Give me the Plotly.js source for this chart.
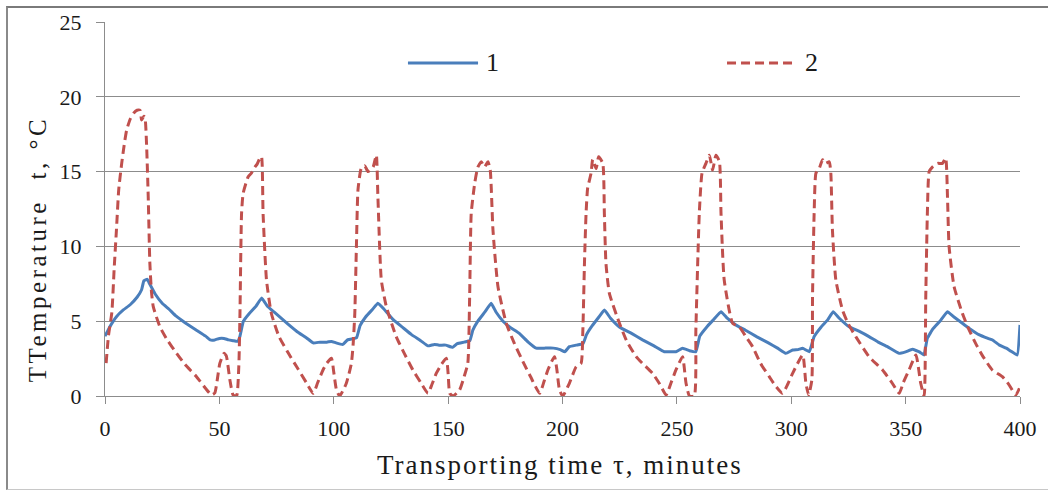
<!DOCTYPE html>
<html>
<head>
<meta charset="utf-8">
<script src="https://cdn.plot.ly/plotly-3.0.1.min.js"></script>
<style>
  html, body { margin: 0; padding: 0; background: #fff; }
  #wrap { position: relative; width: 1048px; height: 490px; overflow: hidden; }
  #chart { position: absolute; left: 0; top: 0; width: 1048px; height: 490px; }
  #frame { position: absolute; left: 6px; top: 6px; width: 1060px; height: 481px;
           border-left: 2px solid #8a8a8a; border-top: 2px solid #7a7a7a; border-bottom: 1px solid #c8c8c8;
           pointer-events: none; }
</style>
</head>
<body>
<div id="wrap">
  <div id="chart"></div>
  <div id="frame"></div>
</div>
<script>
// Series 1 (solid blue)
const time1 = [0, 2, 5, 8, 11, 14, 16, 17, 18.5, 19.5, 22, 25, 28, 31, 35, 40, 44, 46, 48, 50, 52, 54, 56, 58, 59, 60.5, 63, 66, 68.5,
  71, 74, 77, 80, 84, 88, 91, 94, 97, 99, 101, 104, 106, 109, 110, 111.5, 114, 117, 119.3,
  122, 126, 130, 134, 138, 141.2, 144, 146, 149, 152, 154, 157, 159.5, 160.8, 163, 166, 168.8,
  171, 174, 177, 181, 185, 188.5, 192, 196, 199, 201, 203, 206, 209, 210.5, 213, 216, 218.3,
  221, 225, 230, 235, 240, 244.5, 247, 249.6, 252.5, 255.5, 258.3, 260, 263, 266, 269.3,
  272, 275.8, 280, 285, 290, 294, 297.7, 300.6, 303, 305, 307.9, 310, 313, 316, 318.3,
  321, 325.3, 330, 334, 338, 342, 347.2, 350, 353, 356, 358, 359.5, 362, 365, 368.3,
  371, 374.8, 378, 382, 386, 388, 391, 394, 396, 398.8, 400];
const temp1 = [4.0, 4.6, 5.3, 5.75, 6.1, 6.6, 7.1, 7.7, 7.8, 7.5, 6.8, 6.2, 5.8, 5.35, 4.9, 4.4, 4.0, 3.75, 3.75, 3.85, 3.85, 3.75, 3.7, 3.65, 4.0, 5.0, 5.5, 6.0, 6.55,
  6.0, 5.6, 5.2, 4.8, 4.3, 3.9, 3.55, 3.6, 3.6, 3.65, 3.55, 3.45, 3.75, 3.85, 3.9, 4.7, 5.3, 5.8, 6.2,
  5.8, 5.1, 4.6, 4.1, 3.7, 3.35, 3.45, 3.4, 3.4, 3.25, 3.5, 3.6, 3.7, 4.4, 5.0, 5.6, 6.2,
  5.6, 5.0, 4.6, 4.2, 3.6, 3.2, 3.2, 3.2, 3.1, 2.96, 3.3, 3.4, 3.5, 4.1, 4.7, 5.3, 5.75,
  5.2, 4.6, 4.2, 3.75, 3.35, 2.96, 2.96, 2.96, 3.19, 3.03, 2.96, 4.0, 4.6, 5.1, 5.64,
  5.2, 4.75, 4.4, 3.95, 3.55, 3.2, 2.85, 3.07, 3.1, 3.19, 2.96, 3.97, 4.6, 5.1, 5.64,
  5.2, 4.63, 4.3, 3.97, 3.6, 3.3, 2.85, 2.95, 3.12, 2.95, 2.74, 3.86, 4.5, 5.0, 5.64,
  5.3, 4.86, 4.5, 4.1, 3.85, 3.74, 3.4, 3.2, 3.0, 2.74, 4.75];

// Series 2 (dashed red)
const time2 = [0.5, 1.5, 3, 4, 5, 6, 7.3, 8.5, 9.5, 11, 12.5, 14, 15.3, 16, 17, 17.5, 18.2, 18.9, 19.6, 20.3, 21.1, 24, 27, 31.3, 35, 40, 44, 46.6, 48, 49, 50.2, 52, 53, 54.6, 56, 57.5,
  58.5, 59, 59.7, 60.4, 62.6, 64, 65.5, 66.5, 67.7, 68.4, 69.1, 70.6, 72.7, 76, 80, 84, 88, 91, 93, 95.3, 97, 99, 100, 101.2, 102.6, 105.5, 107.7,
  108.5, 109.2, 109.9, 110.6, 112, 113.5, 115, 117.2, 118.6, 119.3, 120.8, 123, 127.3, 131, 134.6, 138, 141.2, 143, 144.8, 147, 149.2, 150, 150.7, 152.1, 155, 157, 158.6,
  159.4, 160.1, 161.6, 163, 164.5, 165.9, 167.4, 168.4, 169.6, 171.8, 175.4, 179, 182.7, 186, 190, 192, 193.6, 196.5, 197.5, 198.7, 200.1, 203, 206, 208.1,
  208.9, 209.6, 210.3, 211, 212.5, 213.2, 214.7, 215.8, 217.6, 218.3, 219, 220.5, 224.9, 228, 232.2, 235.5, 239.4, 242.5, 245.3, 247.5, 249.6, 252.5, 253.3, 254, 255.5, 257.6,
  258.3, 259.1, 259.8, 261, 262.7, 264.2, 265.6, 267.1, 268.6, 269.3, 270.7, 274.4, 277.3, 280, 283.1, 286.5, 290.4, 293, 296.2, 298.5, 300.6, 305, 306.4, 307.6, 309,
  309.3, 310, 310.8, 312.2, 313.7, 315.1, 316.6, 317.3, 318, 319.5, 322.4, 325, 328.2, 334, 339.9, 344, 347.2, 349, 351.5, 354.5, 356.6, 358.1,
  358.8, 359.5, 360.3, 361.7, 363.9, 366.1, 367.5, 368.3, 369, 371.2, 374.8, 377.5, 380.6, 384, 387.9, 392.3, 395, 398.2, 400];
const temp2 = [2.2, 4.0, 5.6, 8.5, 11.1, 13.8, 15.55, 16.9, 17.8, 18.5, 18.9, 19.1, 19.1, 18.45, 18.7, 18.6, 16.7, 13.3, 8.9, 7.0, 5.97, 4.63, 3.8, 2.85, 2.1, 1.29, 0.5, 0.07, 0.2, 1.0, 2.18, 2.85, 2.7, 1.07, 0.07, 0.0,
  2.0, 5.5, 12.2, 13.55, 14.66, 14.9, 15.3, 15.5, 15.9, 16.0, 12.2, 7.75, 5.53, 4.0, 2.9, 1.9, 0.9, 0.18, 0.9, 1.74, 2.2, 2.52, 1.6, 0.4, 0.0, 0.85, 2.18,
  3.5, 5.53, 9.98, 13.8, 15.2, 15.4, 15.0, 15.3, 16.1, 13.3, 7.75, 5.97, 3.97, 2.8, 1.74, 0.9, 0.18, 0.8, 1.51, 2.1, 2.52, 1.5, 0.18, 0.0, 0.4, 1.3, 2.18,
  6.6, 12.2, 14.2, 15.3, 15.66, 15.3, 15.66, 15.1, 11.1, 7.3, 4.86, 3.5, 2.3, 1.3, 0.18, 1.0, 1.74, 2.63, 1.8, 0.4, 0.0, 0.85, 1.96, 2.18,
  4.41, 8.87, 12.2, 13.9, 14.9, 15.8, 15.2, 16.0, 15.55, 12.2, 8.87, 6.86, 4.86, 3.7, 2.63, 2.1, 1.51, 0.8, 0.07, 0.9, 1.74, 2.63, 1.8, 0.85, 0.0, 0.0,
  4.41, 8.87, 12.2, 14.9, 15.55, 16.1, 15.1, 16.1, 15.66, 12.2, 7.75, 4.86, 4.63, 4.0, 3.3, 2.2, 1.29, 0.7, 0.18, 0.8, 1.51, 2.74, 0.85, 0.07, 1.07,
  6.6, 12.2, 14.9, 15.2, 15.8, 15.55, 15.66, 14.9, 11.1, 7.75, 5.75, 4.8, 3.97, 2.63, 1.74, 0.9, 0.18, 0.9, 1.74, 2.74, 0.85, 0.0,
  6.6, 12.2, 15.0, 15.3, 15.55, 15.55, 15.9, 13.3, 9.98, 7.3, 5.53, 4.5, 3.52, 2.6, 1.74, 1.29, 0.8, 0.07, 0.62];

const seriesNames = ['1', '2'];
const xTicks = [0, 50, 100, 150, 200, 250, 300, 350, 400];
const yTicks = [0, 5, 10, 15, 20, 25];
const xTitle = 'Transporting time τ, minutes';
const yTitle = 'TTemperature  t, °C';

const BLUE = '#4a7ebb';
const RED = '#c0504d';
const GRID = '#8c8c8c';
const FONT = 'Liberation Serif';
const TXT = '#1a1a1a';

const traces = [
  { x: time1, y: temp1, type: 'scatter', mode: 'lines', name: seriesNames[0],
    line: { color: BLUE, width: 3, shape: 'spline', smoothing: 0.3 } },
  { x: time2, y: temp2, type: 'scatter', mode: 'lines', name: seriesNames[1],
    line: { color: RED, width: 3, dash: '9px,5px', shape: 'spline', smoothing: 0.5 } }
];

const legY = 0.8904;
const layout = {
  width: 1048, height: 490,
  margin: { l: 105, r: 28, t: 22, b: 94 },
  paper_bgcolor: '#ffffff', plot_bgcolor: '#ffffff',
  showlegend: false,
  font: { family: FONT, size: 22, color: TXT },
  xaxis: {
    range: [0, 400], tickvals: xTicks, ticktext: xTicks.map(String),
    showgrid: false, zeroline: false,
    showline: true, linecolor: GRID, linewidth: 1,
    ticks: 'outside', ticklen: 7, tickcolor: GRID, tickwidth: 1,
    ticklabelstandoff: 6,
    tickfont: { family: FONT, size: 22, color: TXT },
    fixedrange: true
  },
  yaxis: {
    range: [0, 25], tickvals: yTicks, ticktext: yTicks.map(String),
    showgrid: true, gridcolor: GRID, gridwidth: 1, zeroline: false,
    showline: true, linecolor: GRID, linewidth: 1,
    ticks: 'outside', ticklen: 8, tickcolor: GRID, tickwidth: 1,
    ticklabelstandoff: 10,
    tickfont: { family: FONT, size: 22, color: TXT },
    fixedrange: true
  },
  shapes: [
    { type: 'line', xref: 'paper', yref: 'paper', x0: 0.3311, x1: 0.4077, y0: legY, y1: legY,
      line: { color: BLUE, width: 3 } },
    { type: 'line', xref: 'paper', yref: 'paper', x0: 0.6798, x1: 0.7563, y0: legY, y1: legY,
      line: { color: RED, width: 3, dash: '9px,5px' } }
  ],
  annotations: [
    { xref: 'paper', yref: 'paper', x: 0.4142, y: legY, xanchor: 'left', yanchor: 'middle',
      text: seriesNames[0], showarrow: false, font: { family: FONT, size: 26, color: TXT } },
    { xref: 'paper', yref: 'paper', x: 0.7628, y: legY, xanchor: 'left', yanchor: 'middle',
      text: seriesNames[1], showarrow: false, font: { family: FONT, size: 26, color: TXT } },
    { xref: 'paper', yref: 'paper', x: 0.4973, y: -0.1845, xanchor: 'center', yanchor: 'middle',
      text: xTitle, showarrow: false, font: { family: FONT, size: 27, color: TXT } },
    { xref: 'paper', yref: 'paper', x: -0.0743, y: 0.393, xanchor: 'center', yanchor: 'middle',
      text: yTitle, textangle: -90, showarrow: false, font: { family: FONT, size: 25, color: TXT } }
  ]
};

Plotly.newPlot('chart', traces, layout, { staticPlot: true, displayModeBar: false }).then(function () {
  // the source chart's axis titles are drawn wider than the plain font; widen them with letter spacing
  document.querySelectorAll('#chart .annotation-text').forEach(function (el) {
    const t = el.textContent;
    if (t === xTitle) el.style.letterSpacing = '2px';
    if (t === yTitle) el.style.letterSpacing = '3.5px';
  });
});
</script>
</body>
</html>
